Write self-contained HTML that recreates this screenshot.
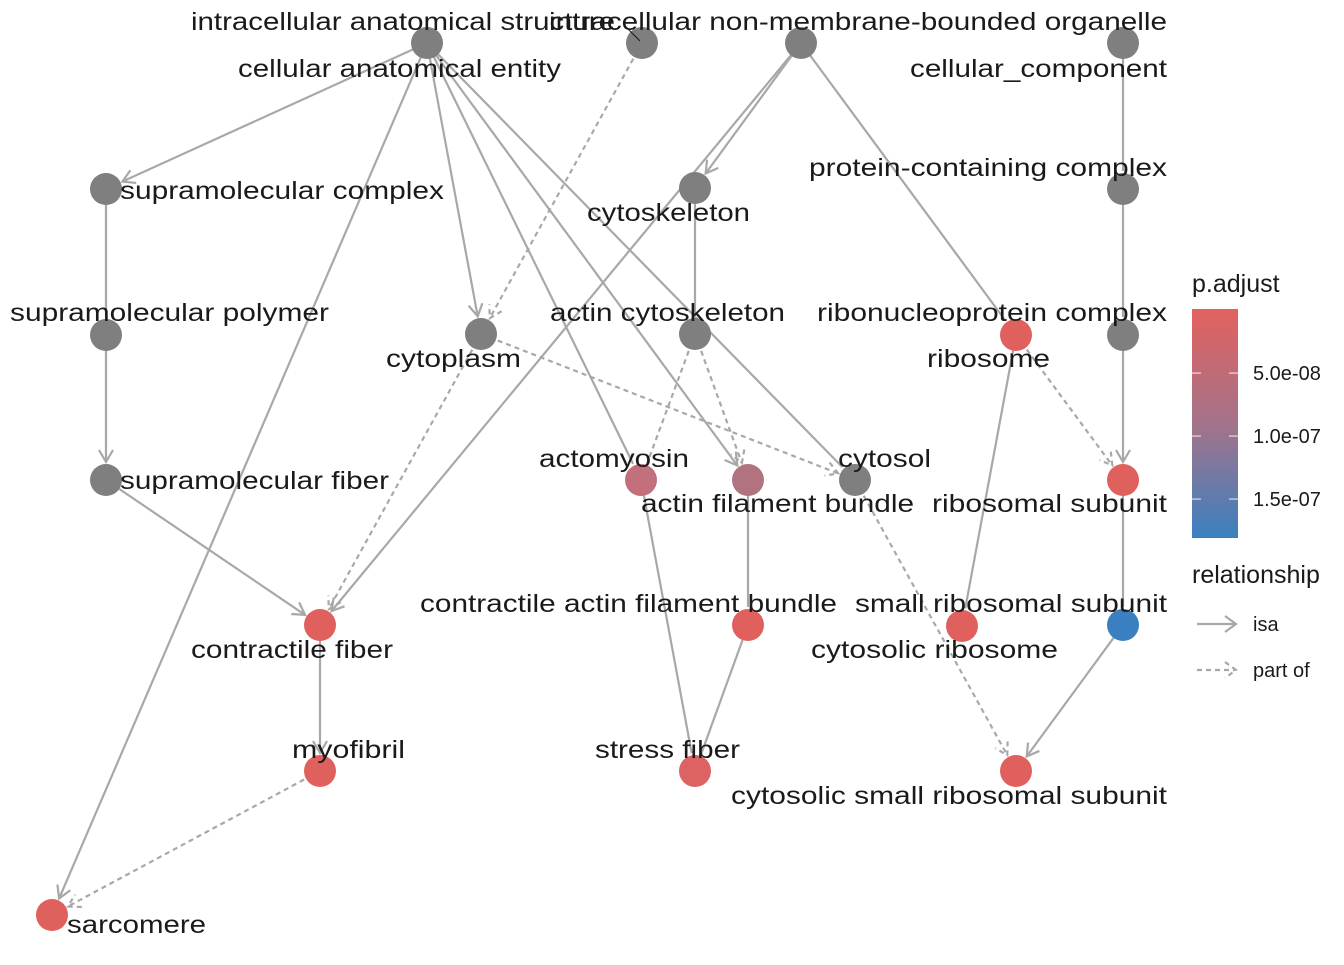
<!DOCTYPE html>
<html><head><meta charset="utf-8"><style>
html,body{margin:0;padding:0;background:#fff}
svg text{font-family:"Liberation Sans",Helvetica,sans-serif;fill:#1a1a1a}
</style></head><body>
<svg width="1344" height="960" viewBox="0 0 1344 960">
<defs>
<linearGradient id="cbar" x1="0" y1="0" x2="0" y2="1">
<stop offset="0" stop-color="#e2615e"/><stop offset="0.5" stop-color="#a4738a"/><stop offset="1" stop-color="#3a80c0"/>
</linearGradient>
</defs>
<g id="edges"></g>
<g id="nodes"></g>
<g id="labels"></g>
<line x1="625" y1="26" x2="640" y2="41" stroke="#1a1a1a" stroke-width="1"/>
<g>
<text x="1192" y="292" font-size="25">p.adjust</text>
<rect x="1192" y="309" width="46" height="229" fill="url(#cbar)"/>
<g id="cticks"></g>
<text x="1192" y="583" font-size="25">relationship</text>
<line x1="1197" y1="624" x2="1235" y2="624" stroke="#a8a8a8" stroke-width="2.2"/>
<polyline points="1225,616 1236,624 1225,632" fill="none" stroke="#a8a8a8" stroke-width="2.2"/>
<text x="1253" y="631" font-size="20">isa</text>
<line x1="1197" y1="670" x2="1235" y2="670" stroke="#a8a8a8" stroke-width="2.2" stroke-dasharray="5,4"/>
<polyline points="1225,662 1236,670 1225,678" fill="none" stroke="#a8a8a8" stroke-width="2.2" stroke-dasharray="5,4"/>
<text x="1253" y="677" font-size="20">part of</text>
</g>
</svg>
<script>
const nodeIds=["A","B","C","D","E","F","G","H","I","J","K","L","M","N","O","P","Q","R","S","T","U","V","W","X","Y"];
const nodeX=[427,642,801,1123,106,695,1123,106,481,695,1016,1123,106,641,748,855,1123,320,748,962,1123,320,695,1016,52];
const nodeY=[43,43,43,43,189,188,189,335,334,334,335,335,480,480,480,480,480,625,625,626,625,771,771,771,915];
const nodeColor=["#7f7f7f","#7f7f7f","#7f7f7f","#7f7f7f","#7f7f7f","#7f7f7f","#7f7f7f","#7f7f7f","#7f7f7f","#7f7f7f","#e0605e","#7f7f7f","#7f7f7f","#c2707c","#b0737f","#7f7f7f","#e0605e","#e0605e","#e0605e","#e0605e","#3a80c0","#e0605e","#dc6264","#e0605e","#e0605e"];
const edgeFrom=["A","A","A","A","A","A","B","C","C","C","D","G","L","E","H","M","F","I","I","J","J","K","K","N","S","O","P","Q","U","V","R"];
const edgeTo=  ["E","Y","I","N","O","P","I","F","R","K","G","L","Q","H","M","R","J","R","P","N","O","Q","T","W","W","S","X","U","X","Y","V"];
const edgeDash=[0,1,1,0,1,0,1,1,1,0,0,0,1,1,1,1,0,1,1,0,1,1,0,0,0,0,1,0,1,1,1].map((_,i)=>0);
const edgeType=["isa","isa","isa","isa","isa","isa","part","isa","isa","isa","isa","isa","isa","isa","isa","isa","isa","part","part","part","part","part","isa","isa","isa","isa","part","isa","isa","part","isa"];
const edgeArrow=[1,1,1,0,1,0,1,1,1,0,0,0,1,0,1,1,0,1,1,0,1,1,0,0,0,0,1,0,1,1,1];
const labelText=["intracellular anatomical structure","intracellular non-membrane-bounded organelle","cellular anatomical entity","cellular_component","supramolecular complex","protein-containing complex","cytoskeleton","supramolecular polymer","actin cytoskeleton","ribonucleoprotein complex","cytoplasm","ribosome","actomyosin","cytosol","supramolecular fiber","actin filament bundle","ribosomal subunit","contractile actin filament bundle","small ribosomal subunit","contractile fiber","cytosolic ribosome","myofibril","stress fiber","cytosolic small ribosomal subunit","sarcomere"];
const labelX0=[191,549,238,910,120,809,587,10,550,817,386,927,539,838,120,641,932,420,855,191,811,292,595,731,67];
const labelX1=[615,1167,561,1167,444,1167,750,329,785,1167,521,1050,689,931,389,914,1167,837,1167,393,1058,405,740,1167,206];
const labelY=[21,21,68,68,190,167,212,312,312,312,358,358,458,458,480,503,503,603,603,649,649,749,749,795,924];
const cTickVal=["5.0e-08","1.0e-07","1.5e-07"];
const cTickPos=[0.28,0.555,0.83];

const NS="http://www.w3.org/2000/svg";
function mk(t,a){const e=document.createElementNS(NS,t);for(const k in a)e.setAttribute(k,a[k]);return e;}
const idx=id=>nodeIds.indexOf(id);
const R=16;
const eg=document.getElementById('edges');
for(let i=0;i<edgeFrom.length;i++){
 const a=idx(edgeFrom[i]),b=idx(edgeTo[i]);
 const x1=nodeX[a],y1=nodeY[a],x2=nodeX[b],y2=nodeY[b];
 const dx=x2-x1,dy=y2-y1,L=Math.hypot(dx,dy),ux=dx/L,uy=dy/L;
 const ex=x2-ux*(R+2),ey=y2-uy*(R+2);
 const dash=edgeType[i]==="part"?"5,4":"none";
 const ln=mk('line',{x1:x1,y1:y1,x2:ex,y2:ey,stroke:"#a8a8a8","stroke-width":2.2,"stroke-dasharray":dash});
 
 
 eg.appendChild(ln);
 if(edgeArrow[i]){
  const s=12,w=7;
  const p1=[ex-ux*s+uy*w,ey-uy*s-ux*w],p2=[ex-ux*s-uy*w,ey-uy*s+ux*w];
  const ar=mk('polyline',{points:p1.join(',')+' '+ex+','+ey+' '+p2.join(','),fill:"none",stroke:"#a8a8a8","stroke-width":2.2,"stroke-dasharray":dash});
  
  
  eg.appendChild(ar);
 }
}
const ng=document.getElementById('nodes');
for(let i=0;i<nodeIds.length;i++){
 const c=mk('circle',{cx:nodeX[i],cy:nodeY[i],r:R,fill:nodeColor[i]});
 
 
 ng.appendChild(c);
}
const lg=document.getElementById('labels');
for(let i=0;i<labelText.length;i++){
 const t=mk('text',{x:labelX0[i],y:labelY[i]+9,"font-size":25,textLength:labelX1[i]-labelX0[i],lengthAdjust:"spacingAndGlyphs"});
 t.textContent=labelText[i];
 
 
 lg.appendChild(t);
}
const ct=document.getElementById('cticks');
for(let i=0;i<cTickVal.length;i++){
 const y=309+229*cTickPos[i];
 const l1=mk('line',{x1:1192,x2:1201,y1:y,y2:y,stroke:"#ffffff","stroke-opacity":0.6,"stroke-width":1.5});
 
 
 ct.appendChild(l1);
 const l2=mk('line',{x1:1229,x2:1238,y1:y,y2:y,stroke:"#ffffff","stroke-opacity":0.6,"stroke-width":1.5});
 
 
 ct.appendChild(l2);
 const t=mk('text',{x:1253,y:y+7,"font-size":20});
 t.textContent=cTickVal[i];
 
 
 ct.appendChild(t);
}
</script>
</body></html>
